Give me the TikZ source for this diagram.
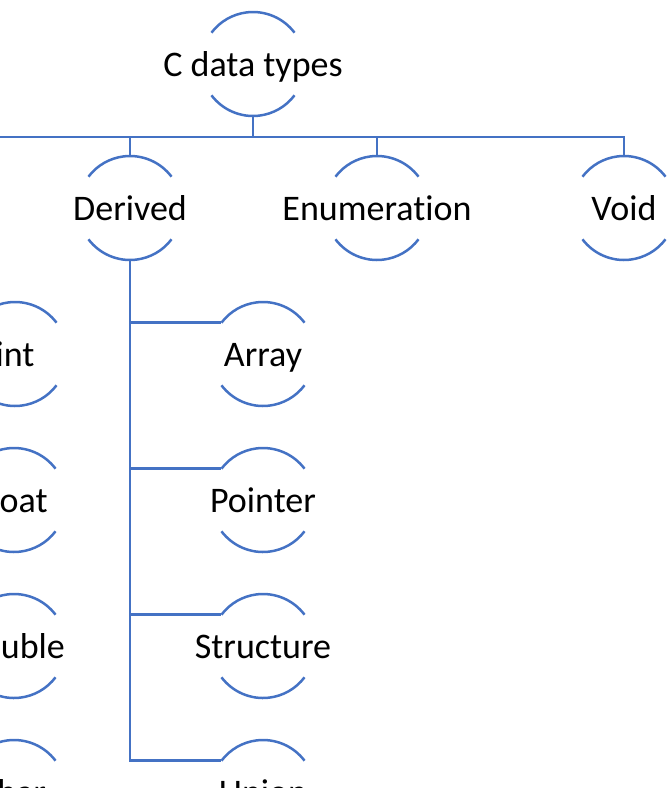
\documentclass[tikz,border=0pt]{standalone}
\usepackage{fontspec}
\setmainfont[Ligatures=NoCommon]{Carlito}
\usepackage{tikz}
\definecolor{typeblue}{RGB}{68,114,196}

\begin{document}
\begin{tikzpicture}[x=1pt, y=1pt,
    typenode/.style={circle, minimum size=104pt, inner sep=0pt, outer sep=0pt,
      text height=24pt, text depth=0pt, font=\fontsize{36}{43}\selectfont,
      append after command={\pgfextra{
        \draw[typearc] ([shift={(37:52)}]\tikzlastnode.center) arc[start angle=37, end angle=143, radius=52];
        \draw[typearc] ([shift={(217:52)}]\tikzlastnode.center) arc[start angle=217, end angle=323, radius=52];}}},
    typearc/.style={typeblue, line width=2.5pt},
    link/.style={typeblue, line width=2.8pt}]
            \useasboundingbox (0,0) rectangle (667,-788);
            \clip (0,0) rectangle (667,-788);
            \node[typenode] (cdt) at (253,-64) {C data types};
            \node[typenode] (derived) at (130,-208) {Derived};
            \node[typenode] (enumeration) at (377,-208) {Enumeration};
            \node[typenode] (void) at (624,-208) {Void};
            \node[typenode] (int) at (15,-354) {int};
            \node[typenode] (float) at (14,-500) {float};
            \node[typenode] (double) at (14,-646) {double};
            \node[typenode] (char) at (14,-792) {char};
            \node[typenode] (array) at (263,-354) {Array};
            \node[typenode] (pointer) at (263,-500) {Pointer};
            \node[typenode] (structure) at (263,-646) {Structure};
            \node[typenode] (union) at (263,-792) {Union};
            \coordinate (bus) at (253,-137);
            \coordinate (busleft) at (-20,-137);
            \draw[link] ([yshift=-52]cdt.center) -- (bus);
            \draw[link] (busleft) -- (bus) -| ([yshift=52]void.center);
            \draw[link] ([yshift=52]derived.center) -- (derived |- bus);
            \draw[link] ([yshift=52]enumeration.center) -- (enumeration |- bus);
            \draw[link] ([yshift=-52]derived.center) |- ([shift={(143:52)}]array.center);
            \draw[link] ([yshift=-52]derived.center) |- ([shift={(143:52)}]pointer.center);
            \draw[link] ([yshift=-52]derived.center) |- ([shift={(143:52)}]structure.center);
            \draw[link] ([yshift=-52]derived.center) |- ([shift={(143:52)}]union.center);
        \end{tikzpicture}
\end{document}
